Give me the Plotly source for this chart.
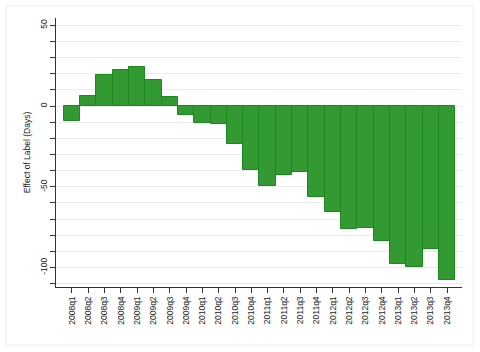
import plotly.graph_objects as go

quarters = ["2008q1", "2008q2", "2008q3", "2008q4", "2009q1", "2009q2", "2009q3", "2009q4",
            "2010q1", "2010q2", "2010q3", "2010q4", "2011q1", "2011q2", "2011q3", "2011q4",
            "2012q1", "2012q2", "2012q3", "2012q4", "2013q1", "2013q2", "2013q3", "2013q4"]
effects = [-9.0, 6.4, 19.3, 22.6, 24.1, 16.0, 5.6, -5.3,
           -10.7, -11.1, -23.7, -39.5, -49.4, -42.8, -40.7, -56.6,
           -65.8, -76.1, -75.5, -83.5, -97.7, -99.6, -88.3, -107.4]
ytick_vals = list(range(-110, 51, 10))
ytick_labels = {50: "50", 0: "0", -50: "-50", -100: "-100"}

xpos = list(range(len(quarters)))
font = "Liberation Sans, Arial, sans-serif"

fig = go.Figure()
fig.add_trace(go.Bar(
    x=xpos, y=effects, width=1.0,
    marker=dict(color="#339933", line=dict(color="#1a8a1a", width=1)),
    showlegend=False,
))

fig.update_layout(
    width=480, height=352,
    margin=dict(l=56, r=18, t=18, b=65),
    paper_bgcolor="white", plot_bgcolor="white",
    font=dict(family=font, size=9, color="#222"),
    bargap=0,
    xaxis=dict(
        range=[-0.98, 23.92],
        tickmode="array", tickvals=xpos, ticktext=quarters,
        tickangle=-90, ticks="outside", ticklen=5, tickcolor="#333",
        tickfont=dict(size=8.5, family=font, color="#222"),
        showline=True, linecolor="#333", linewidth=1,
        showgrid=False, zeroline=False,
    ),
    yaxis=dict(
        range=[-112, 54.5],
        tickmode="array", tickvals=ytick_vals,
        ticktext=[ytick_labels.get(v, "") for v in ytick_vals],
        tickangle=-90, ticks="outside", ticklen=5, tickcolor="#333",
        tickfont=dict(size=8.5, family=font, color="#222"),
        showline=True, linecolor="#333", linewidth=1,
        showgrid=True, gridcolor="#ebebeb", gridwidth=1,
        zeroline=False,
        title=dict(text="Effect of Label (Days)", font=dict(size=8.5, family=font, color="#222"), standoff=6),
    ),
    shapes=[dict(type="rect", xref="paper", yref="paper",
                 x0=-0.123, x1=1.027, y0=-0.216, y1=1.045,
                 line=dict(color="#eeeeee", width=1), fillcolor="rgba(0,0,0,0)", layer="below")],
)

fig.write_html("out.html")
